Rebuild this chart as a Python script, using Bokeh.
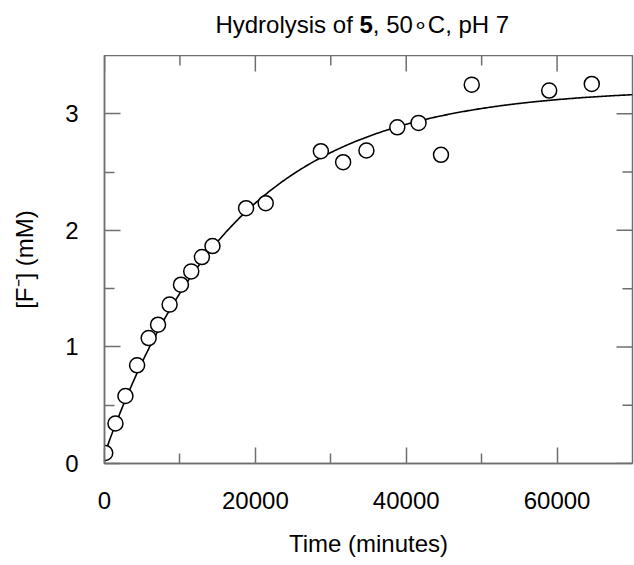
import numpy as np
from bokeh.plotting import figure
from bokeh.models import Range1d, FixedTicker, BasicTickFormatter
from bokeh.layouts import column
from bokeh.core.properties import value
from bokeh.embed import file_html
from bokeh.resources import INLINE

# ---- data ----
time_min = [100, 1454, 2776, 4322, 5856, 7099, 8632, 10136, 11500, 12914, 14316,
            18771, 21375, 28685, 31636, 34725, 38817, 41633, 44610, 48687, 58956, 64600]
fluoride_mM = [0.09, 0.343, 0.579, 0.842, 1.076, 1.191, 1.363, 1.534, 1.648, 1.771, 1.865,
               2.190, 2.233, 2.679, 2.585, 2.685, 2.884, 2.922, 2.648, 3.250, 3.199, 3.256]

# first-order fit drawn through the data: y = y0 + A (1 - exp(-k t))
fit_y0 = 0.08
fit_A = 3.138
fit_k = 5.8e-5

x_major = [0, 20000, 40000, 60000]
x_minor = [10000, 30000, 50000]
y_major = [0, 1, 2, 3]
y_minor = [0.5, 1.5, 2.5]

title_prefix = "Hydrolysis of"
title_bold = "5"
title_suffix = ", 50\u2218C, pH 7"
x_label = "Time (minutes)"
y_label = "[F\u207b] (mM)"

FONT = "Liberation Sans"
FS = "24px"
AX_COL = "#6f6f6f"

x_rng = Range1d(0, 70000)
y_rng = Range1d(0, 3.5)

# ---------------- title strip ----------------
t = figure(width=634, height=55, x_range=x_rng, y_range=Range1d(0, 55), title=None,
           output_backend="svg", toolbar_location=None,
           x_axis_type=None, y_axis_type=None,
           min_border_left=104, min_border_right=2, min_border_top=0, min_border_bottom=0)
t.outline_line_color = None
t.xgrid.visible = False
t.ygrid.visible = False
xc = (x_rng.start + x_rng.end) / 2
common = dict(text_font=value(FONT), text_font_size=FS, text_color="black",
              text_baseline="alphabetic")
t.text(x=[xc], y=[31], text=[title_prefix], x_offset=-15.7, text_align="right", **common)
t.text(x=[xc], y=[31], text=[title_bold], x_offset=-9, text_align="left",
       text_font_style="bold", **common)
t.text(x=[xc], y=[31], text=[title_suffix], x_offset=4.3, text_align="left", **common)

# ---------------- main plot ----------------
p = figure(width=634, height=510, x_range=x_rng, y_range=y_rng, title=None,
           output_backend="svg", toolbar_location=None,
           min_border_left=104, min_border_right=2, min_border_top=0, min_border_bottom=102)
p.outline_line_color = AX_COL
p.outline_line_width = 1.5
p.xgrid.visible = False
p.ygrid.visible = False

p.xaxis.ticker = FixedTicker(ticks=x_major, minor_ticks=x_minor)
p.yaxis.ticker = FixedTicker(ticks=y_major, minor_ticks=y_minor)
p.xaxis.formatter = BasicTickFormatter(use_scientific=False)
for ax in (p.xaxis[0], p.yaxis[0]):
    ax.axis_line_color = AX_COL
    ax.axis_line_width = 1.5
    ax.major_tick_line_color = AX_COL
    ax.major_tick_line_width = 1.5
    ax.minor_tick_line_color = AX_COL
    ax.minor_tick_line_width = 1.5
    ax.major_tick_in = 16
    ax.major_tick_out = 0
    ax.minor_tick_in = 10
    ax.minor_tick_out = 0
    ax.major_label_text_font = FONT
    ax.major_label_text_font_size = FS
    ax.major_label_text_color = "black"
    ax.axis_label_text_font = FONT
    ax.axis_label_text_font_size = FS
    ax.axis_label_text_font_style = "normal"
    ax.axis_label_text_color = "black"
p.xaxis.axis_label = x_label
p.yaxis.axis_label = y_label
p.xaxis.major_label_standoff = 28
p.xaxis.axis_label_standoff = 18
p.yaxis.major_label_standoff = 26
p.yaxis.axis_label_standoff = 24

# mirrored inward ticks on the top and right edges
tick_kw = dict(length_units="screen", line_color=AX_COL, line_width=1.5)
p.ray(x=x_major, y=[y_rng.end] * len(x_major), length=16, angle=-np.pi / 2, **tick_kw)
p.ray(x=x_minor, y=[y_rng.end] * len(x_minor), length=10, angle=-np.pi / 2, **tick_kw)
p.ray(x=[x_rng.end] * len(y_major), y=y_major, length=16, angle=np.pi, **tick_kw)
p.ray(x=[x_rng.end] * len(y_minor), y=y_minor, length=10, angle=np.pi, **tick_kw)

# fitted curve
t_fit = np.linspace(x_rng.start, x_rng.end, 400)
y_fit = fit_y0 + fit_A * (1 - np.exp(-fit_k * t_fit))
p.line(t_fit, y_fit, line_color="black", line_width=1.6)

# data points
p.scatter(time_min, fluoride_mM, marker="circle", size=15, fill_color="white",
          line_color="black", line_width=1.5)

layout = column(t, p, spacing=0)
open("out.html", "w").write(file_html(layout, INLINE))
